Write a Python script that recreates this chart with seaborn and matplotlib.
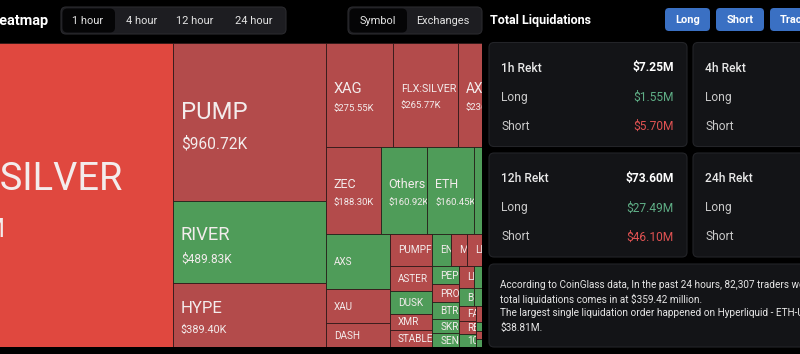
import numpy as np
import pandas as pd
import seaborn as sns
import matplotlib.pyplot as plt
from matplotlib.patches import Rectangle, FancyBboxPatch
from matplotlib.transforms import Bbox

# 1. Data -- 1 hour liquidations by symbol ($K), side that got wiped out most
symbols = ["XYZ:SILVER", "PUMP", "RIVER", "HYPE", "XAG", "FLX:SILVER", "AXL", "ZEC",
           "Others", "ETH", "BTC", "AXS", "XAU", "DASH", "PUMPFUN", "ASTER", "DUSK",
           "XMR", "STABLE", "ENA", "MON", "LIT", "SOL", "XRP", "PEPE", "PROM", "BTR",
           "SKR", "SENT", "LINEA", "ZORA", "DOGE", "SUI", "BNB", "MNT", "WLD", "TRUMP",
           "FARTCOIN", "RENDER", "1000SATS", "PAXG",
           "PENGU", "WIF", "TAO", "AVAX", "ADA", "LTC", "ONDO", "TIA", "SEI", "APT",
           "NEAR", "ARB", "OP", "INJ", "AAVE", "UNI", "TON", "BCH", "ETC", "FIL"]
liq_k = [3112.40, 960.72, 489.83, 389.40, 275.55, 265.77, 236.40, 188.30,
         160.92, 160.45, 140.20, 139.10, 87.00, 60.00, 54.80, 41.50, 38.20,
         28.30, 28.10, 23.30, 20.80, 20.60, 20.30, 20.00, 19.60, 19.20, 18.30,
         14.80, 14.50, 12.50, 12.30, 12.10, 11.90, 10.40, 10.20, 10.00, 9.80,
         9.60, 8.90, 8.40, 8.20,
         4.40, 4.20, 4.00, 3.80, 3.60, 3.50, 3.30, 3.10, 2.90, 2.80,
         2.60, 2.40, 2.20, 2.10, 1.90, 1.80, 1.60, 1.50, 1.30, 1.20]
sides = ["S", "S", "L", "S", "S", "S", "S", "S",
         "L", "L", "L", "L", "S", "S", "S", "S", "L",
         "S", "S", "L", "S", "S", "L", "S", "L", "S", "L",
         "L", "L", "S", "L", "S", "L", "L", "L", "S", "L",
         "S", "S", "L", "S",
         "L", "S", "L", "S", "L", "S", "L", "S", "L", "S",
         "L", "S", "L", "S", "L", "S", "L", "S", "L", "S"]

time_tabs = ["1 hour", "4 hour", "12 hour", "24 hour"]
group_tabs = ["Symbol", "Exchanges"]
buttons = ["Long", "Short", "Tracker"]

rekt_periods = ["1h", "4h", "12h", "24h"]
rekt_total_m = [7.25, np.nan, 73.60, np.nan]
rekt_long_m = [1.55, np.nan, 27.49, np.nan]
rekt_short_m = [5.70, np.nan, 46.10, np.nan]

desc_lines = ["According to CoinGlass data, In the past 24 hours, 82,307 traders were liquidated, the",
              "total liquidations comes in at $359.42 million.",
              "The largest single liquidation order happened on Hyperliquid - ETH-USD value",
              "$38.81M."]

# 2. Style
sns.set_theme(style="dark", rc={"figure.facecolor": "black", "axes.facecolor": "black"})
plt.rcParams["font.family"] = ["Roboto", "DejaVu Sans"]
PT = 0.72  # px -> pt at 100 dpi
W, H = 800, 354
pal = dict(zip(["S+", "S", "L"], sns.color_palette(["#e0483f", "#b34b4b", "#4f9c59"])))
INK = "#f3ecec"

fig = plt.figure(figsize=(W / 100, H / 100), dpi=100)
ax = fig.add_axes([0, 0, 1, 1])
ax.set_xlim(0, W)
ax.set_ylim(H, 0)
ax.axis("off")


def clip(x0, y0, x1, y1):
    return Bbox.from_extents(x0, H - y1, x1, H - y0)


def pill(x0, y0, x1, y1, fc, ec="none", r=5, z=3):
    ax.add_patch(FancyBboxPatch((x0, y0), x1 - x0, y1 - y0,
                                boxstyle=f"round,pad=0,rounding_size={r}",
                                fc=fc, ec=ec, lw=0.8, zorder=z))


def cell_text(x, yc, s, fs, cb):
    # yc = vertical centre of the capitals
    t = ax.text(x, yc + 0.355 * fs, s, fontsize=fs * PT, color=INK,
                va="baseline", ha="left", clip_on=True, zorder=2)
    t.set_clip_box(cb)


# 3. Treemap layout (squarified, golden square ratio)
GOLD = 0.5 * (1 + 5 ** 0.5)


def worst(row, side):
    s = sum(row)
    f = side * side * GOLD
    return max(f * max(row) / (s * s), (s * s) / (f * min(row)))


def place(row, rect, out, flush):
    x, y, w, h = rect
    s = sum(row)
    if w <= h:
        th = h if flush else min(s / w, h)
        cx = x
        for k, a in enumerate(row):
            cw = x + w - cx if k == len(row) - 1 else a / th
            out.append((cx, y, cw, th))
            cx += cw
        rect[:] = [x, y + th, w, h - th]
    else:
        tw = w if flush else min(s / h, w)
        cy = y
        for k, a in enumerate(row):
            ch = y + h - cy if k == len(row) - 1 else a / tw
            out.append((x, cy, tw, ch))
            cy += ch
        rect[:] = [x + tw, y, w - tw, h]


def squarify(areas, x, y, w, h):
    out, rect, row, best, i = [], [x, y, w, h], [], np.inf, 0
    while i < len(areas):
        row.append(areas[i])
        score = worst(row, min(rect[2], rect[3]))
        if score <= best:
            best = score
            i += 1
        else:
            row.pop()
            place(row, rect, out, False)
            row, best = [], np.inf
    if row:
        place(row, rect, out, True)
    return out


df = pd.DataFrame({"symbol": symbols, "usd_k": liq_k, "side": sides})
df = df.sort_values("usd_k", ascending=False, kind="stable").reset_index(drop=True)
total = df["usd_k"].sum()
TX, TY, TW, TH = -86, 42.5, 601, 304.5
VIS_R = 482
cells = squarify(list(df["usd_k"] / total * TW * TH), TX, TY, TW, TH)

for (x, y, w, h), r in zip(cells, df.itertuples()):
    share = r.usd_k / total
    key = "S+" if (r.side == "S" and share > 0.25) else r.side
    rect = Rectangle((x, y), w, h, fc=pal[key], ec="#241616", lw=0.5, zorder=1)
    ax.add_patch(rect)
    rect.set_clip_box(clip(TX, TY, VIS_R, TY + TH))
    if w < 8 or h < 9 or x + 8 >= VIS_R:
        continue
    cb = clip(max(x, 0), y, min(x + w, VIS_R), y + h)
    if share >= 0.02:
        fs = max(24 * (w * h / 24555) ** 0.395, 12.5)
        fs = min(fs, w / (0.6 * len(r.symbol)))
        fv = max(0.65 * fs, 9.5)
        d = 0.82 * (fs + fv)
        cy = y + h / 2 + 0.2 * fs
        val = f"${r.usd_k / 1000:.2f}M" if r.usd_k >= 1000 else f"${r.usd_k:.2f}K"
        cell_text(x + 8, cy - d / 2, r.symbol, fs, cb)
        cell_text(x + 8, cy + d / 2, val, fv, cb)
    else:
        cell_text(x + 8, y + h / 2, r.symbol, 10, cb)

# 4. Header (left)
ax.text(-10.5, 21, "Heatmap", fontsize=14.5 * PT, weight="bold", color="white",
        va="center", ha="left")
pill(61, 7, 286, 34, "#1d1d21", ec="#2a2a2e")
pill(62.5, 8.5, 115, 32.5, "#050506")
for lab, cx in zip(time_tabs, [88, 142, 195, 254]):
    ax.text(cx, 21, lab, fontsize=11 * PT, color="#e4e4e4", va="center", ha="center", zorder=5)
pill(348, 7, 482, 34, "#1d1d21", ec="#2a2a2e")
pill(349.5, 8.5, 407, 32.5, "#050506")
for lab, cx in zip(group_tabs, [378, 443]):
    ax.text(cx, 21, lab, fontsize=11 * PT, color="#e4e4e4", va="center", ha="center", zorder=5)

# 5. Right panel
ax.add_patch(Rectangle((VIS_R, 36), W - VIS_R, H - 36, fc="black", ec="none", zorder=3))
ax.text(490, 20.5, "Total Liquidations", fontsize=12.5 * PT, weight="bold", color="white",
        va="center", ha="left", zorder=5)
for lab, (bx0, bx1) in zip(buttons, [(665, 710), (716, 764), (770, 840)]):
    pill(bx0, 8, bx1, 31, "#3a70c3", r=4, z=4)
    ax.text((bx0 + bx1) / 2 if bx1 < W else bx0 + 10, 20, lab, fontsize=11 * PT,
            weight="bold", color="white", va="center",
            ha="center" if bx1 < W else "left", zorder=5)

card_boxes = [(489, 42.5), (693, 42.5), (489, 153), (693, 153)]
for k, (cx0, cy0) in enumerate(card_boxes):
    pill(cx0, cy0, cx0 + 198, cy0 + 104, "#131417", ec="#232428", z=4)
    ax.text(cx0 + 12, cy0 + 25.5, f"{rekt_periods[k]} Rekt", fontsize=12 * PT,
            weight="medium", color="#e8e8e8", va="center", ha="left", zorder=5)
    ax.text(cx0 + 12, cy0 + 55, "Long", fontsize=12 * PT, color="#c9c9c9",
            va="center", ha="left", zorder=5)
    ax.text(cx0 + 12, cy0 + 84, "Short", fontsize=12 * PT, color="#c9c9c9",
            va="center", ha="left", zorder=5)
    if not np.isnan(rekt_total_m[k]):
        rx = cx0 + 185
        ax.text(rx, cy0 + 25.5, f"${rekt_total_m[k]:.2f}M", fontsize=12 * PT,
                weight="bold", color="white", va="center", ha="right", zorder=5)
        ax.text(rx, cy0 + 55, f"${rekt_long_m[k]:.2f}M", fontsize=12 * PT,
                color="#5fae86", va="center", ha="right", zorder=5)
        ax.text(rx, cy0 + 84, f"${rekt_short_m[k]:.2f}M", fontsize=12 * PT,
                color="#e05252", va="center", ha="right", zorder=5)

pill(489, 264, 900, 347, "#131417", ec="#232428", z=4)
for k, line in enumerate(desc_lines):
    ax.text(500.5, 284.5 + 14.5 * k, line, fontsize=10 * PT, color="#e6e6e6",
            va="center", ha="left", zorder=5)

fig.savefig("out.png", dpi=100, facecolor="black")
